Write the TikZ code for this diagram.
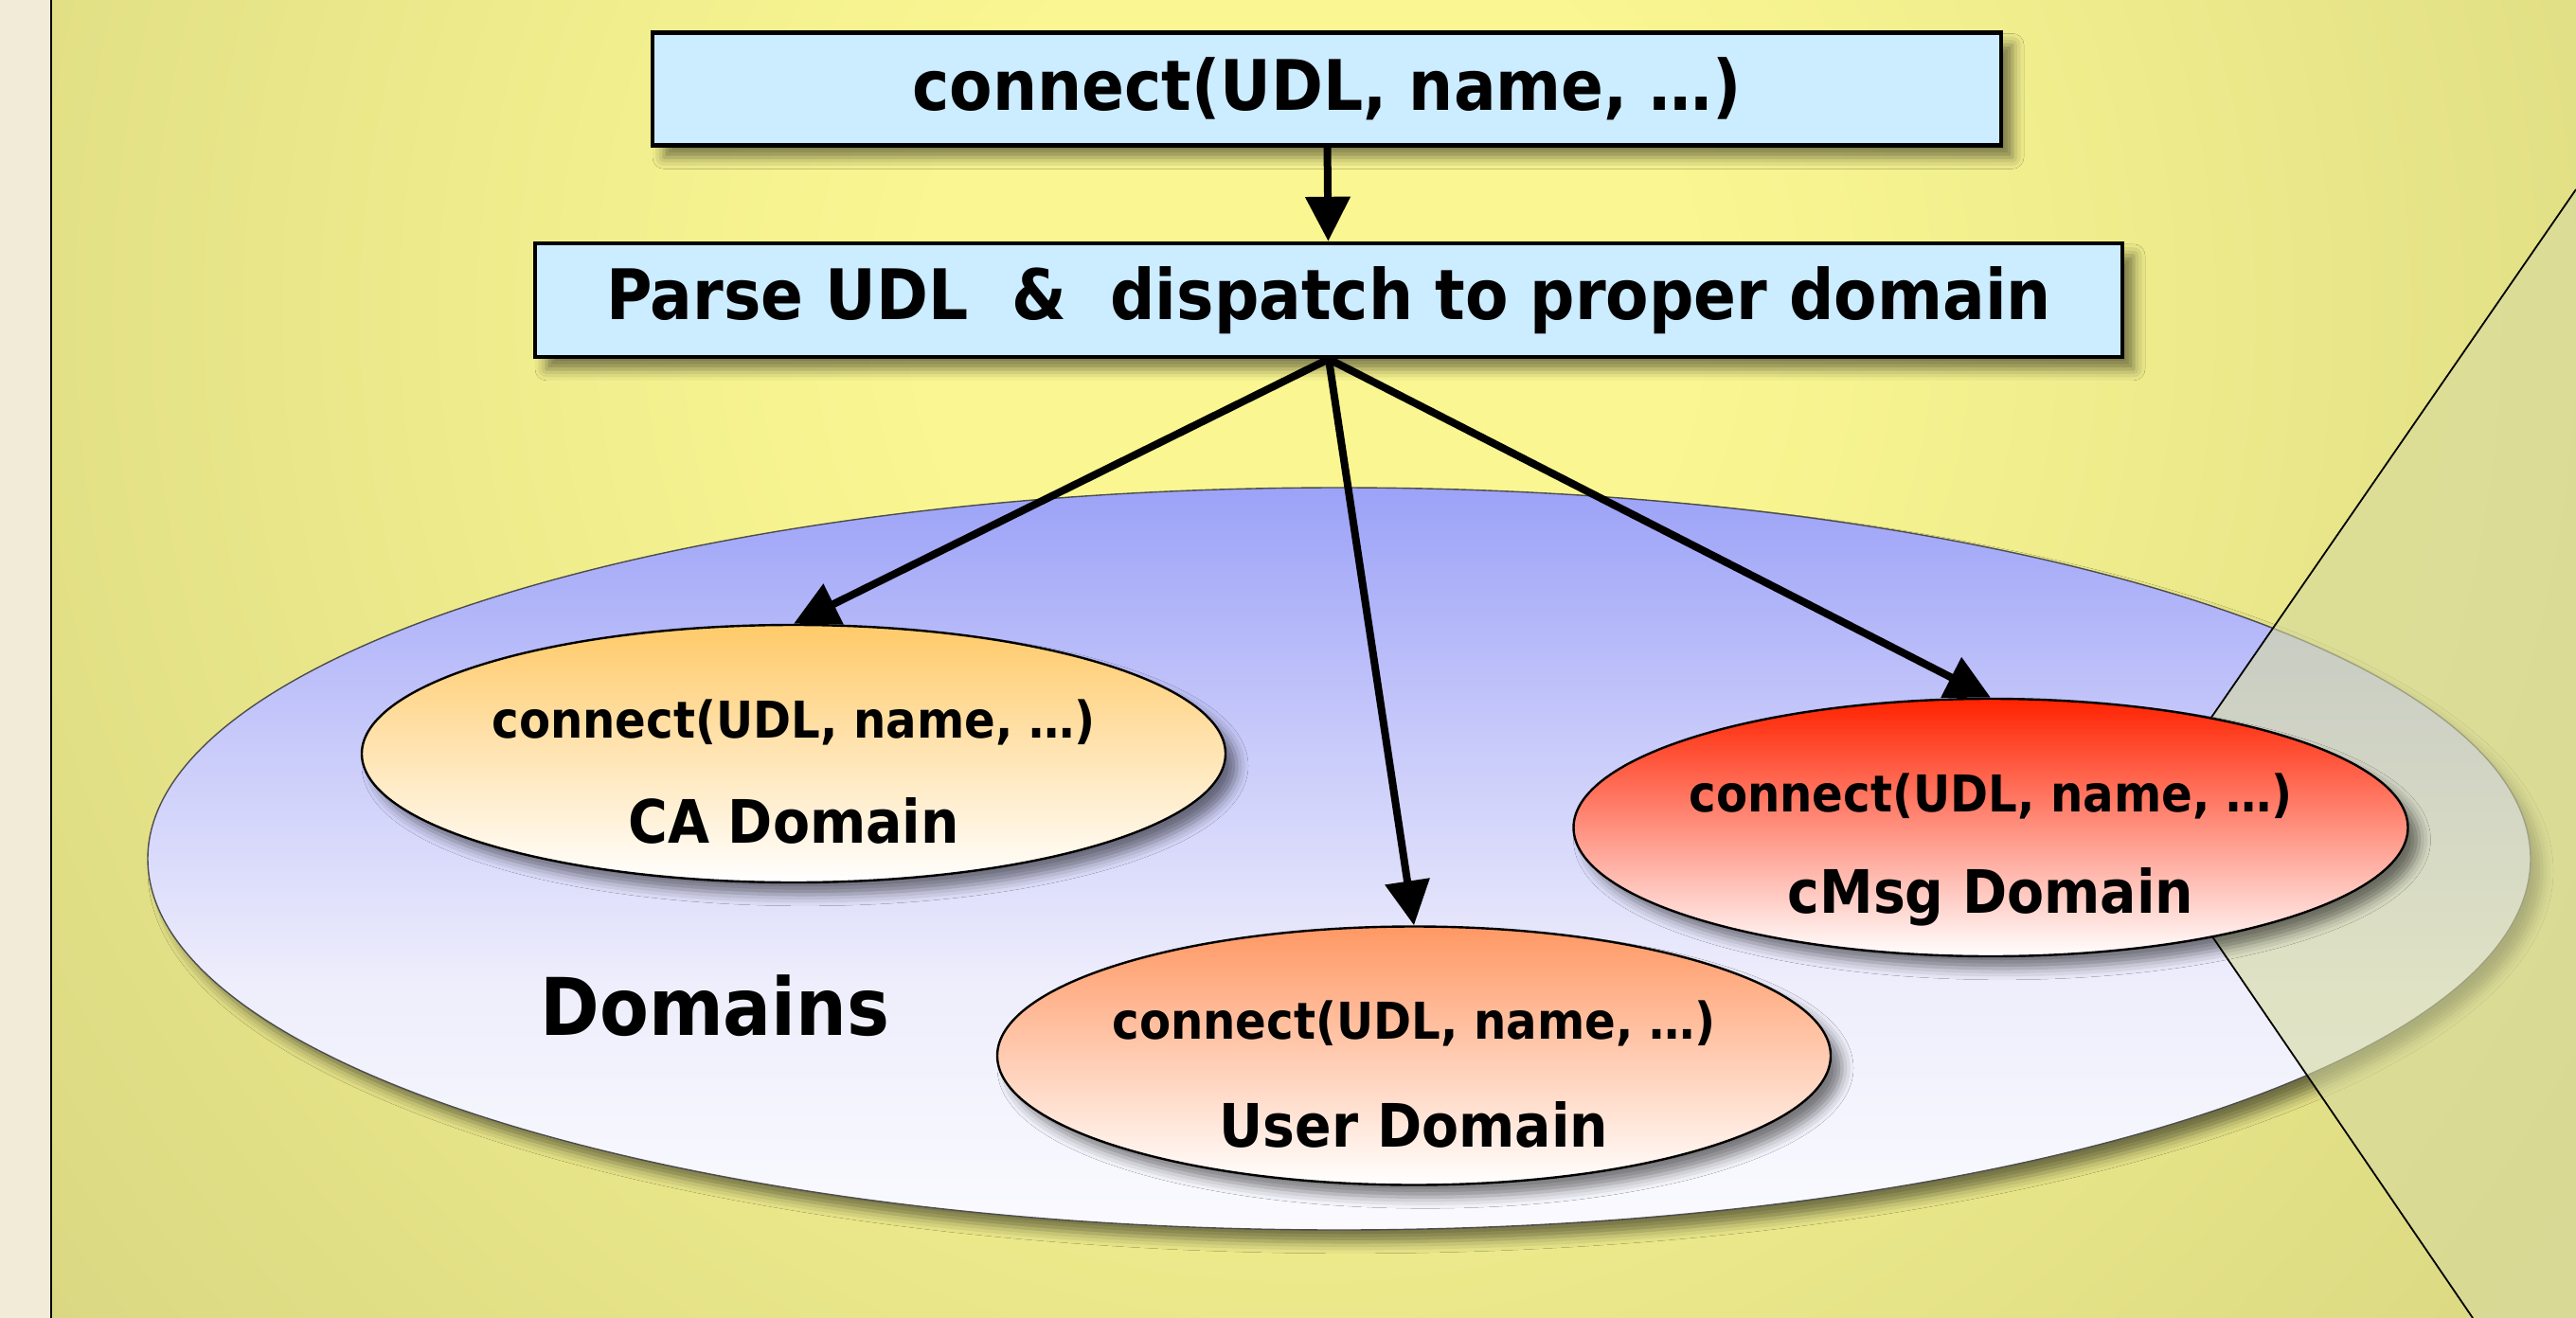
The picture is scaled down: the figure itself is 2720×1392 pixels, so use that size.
\documentclass[tikz,border=0pt]{standalone}
\usepackage{fontspec}
\setmainfont{DejaVu Sans}[FakeStretch=0.9]
\usetikzlibrary{shapes.geometric,arrows.meta,shadows.blur}

\definecolor{bgIn}{RGB}{250,247,146}
\definecolor{bgOut}{RGB}{218,216,130}
\definecolor{stripcol}{RGB}{242,235,216}
\definecolor{boxfill}{RGB}{204,236,255}
\definecolor{bigTop}{RGB}{156,162,247}
\definecolor{bigA}{RGB}{200,202,250}
\definecolor{bigB}{RGB}{238,238,252}
\definecolor{bigBot}{RGB}{250,250,255}
\definecolor{caTop}{RGB}{255,202,105}
\definecolor{userTop}{RGB}{255,152,100}
\definecolor{cmsgTop}{RGB}{255,34,0}
\definecolor{wedgecol}{RGB}{214,218,160}

\pgfdeclareradialshading{bgshade}{\pgfpointorigin}{color(0bp)=(bgIn); color(6bp)=(bgIn); color(25bp)=(bgOut); color(50bp)=(bgOut)}
\pgfdeclareverticalshading{bigshade}{100bp}{color(0bp)=(bigBot); color(25bp)=(bigBot); color(41.5bp)=(bigB); color(58bp)=(bigA); color(75bp)=(bigTop); color(100bp)=(bigTop)}

\tikzset{
  shad/.style={blur shadow={shadow xshift=3pt, shadow yshift=-3.2pt, shadow blur radius=3pt, shadow opacity=50}},
  box/.style={draw=black, line width=1.1pt, fill=boxfill, inner sep=0pt, shad,
    font=\fontsize{18.4pt}{22pt}\selectfont\bfseries},
  dom/.style={ellipse, draw=black, line width=0.6pt, inner sep=0pt, shad, bottom color=white},
  conn/.style={font=\fontsize{13.4pt}{16pt}\selectfont\bfseries, inner sep=0pt},
  dname/.style={font=\fontsize{15.8pt}{19pt}\selectfont\bfseries, inner sep=0pt},
  arr/.style={line width=2pt, -{Triangle[length=11.75pt,width=11.5pt]}},
  wedgeline/.style={line width=0.45pt, draw=black}
}

\begin{document}
\begin{tikzpicture}[x=0.25pt,y=-0.25pt]
\useasboundingbox (0,0) rectangle (2720,1392);
% left strip and background
\fill[stripcol] (0,0) rectangle (54,1392);
\begin{scope}
  \clip (54,0) rectangle (2720,1392);
  \fill[bgOut] (54,0) rectangle (2720,1392);
  \shade[shading=bgshade] (1380,330) ellipse [x radius=420pt, y radius=430pt];
\end{scope}
\draw[line width=0.5pt] (54,0) -- (54,1392);

% big domains ellipse
\node[ellipse, draw=black!70, line width=0.35pt, shading=bigshade,
      minimum width=629pt, minimum height=196pt, inner sep=0pt, shad] (domains) at (1414,907) {};
\node[font=\fontsize{21pt}{25pt}\selectfont\bfseries, inner sep=0pt] (domlabel) at (755,1062) {Domains};

% wedge overlay
\coordinate (wv) at (2256,872);
\coordinate (wt) at (2720,200);
\coordinate (wc) at (2720,1392);
\coordinate (wb) at (2611,1392);
\fill[wedgecol, opacity=0.6] (wv) -- (wt) -- (wc) -- (wb) -- cycle;
\draw[wedgeline] (wt) -- (wv) -- (wb);

% domain ellipses
\node[dom, top color=caTop, minimum width=228pt, minimum height=68pt] (ca) at (838,796) {};
\node[conn] (ca1) at ([yshift=8.25pt]ca.center) {connect(UDL, name, …)};
\node[dname] (ca2) at ([yshift=-17.75pt]ca.center) {CA Domain};

\node[dom, top color=userTop, minimum width=220pt, minimum height=68.25pt] (user) at (1493,1115) {};
\node[conn] (user1) at ([yshift=8.5pt]user.center) {connect(UDL, name, …)};
\node[dname] (user2) at ([yshift=-18.25pt]user.center) {User Domain};

\node[dom, top color=cmsgTop, minimum width=220.25pt, minimum height=68pt] (cmsg) at (2102,874) {};
\node[conn] (cmsg1) at ([yshift=8.25pt]cmsg.center) {connect(UDL, name, …)};
\node[dname] (cmsg2) at ([yshift=-18.25pt]cmsg.center) {cMsg Domain};

% boxes
\node[box, minimum width=356pt, minimum height=29.75pt] (top) at (1401,94) {connect(UDL, name, …)};
\node[box, minimum width=419pt, minimum height=30pt] (parse) at (1403,317) {Parse UDL\ \ \&\ \ dispatch to proper domain};

% arrows
\draw[arr] (top) -- (parse);
\draw[arr] (parse.south) -- (ca.north);
\draw[arr] (parse.south) -- (user.north);
\draw[arr] (parse.south) -- (cmsg.north);
\end{tikzpicture}
\end{document}
